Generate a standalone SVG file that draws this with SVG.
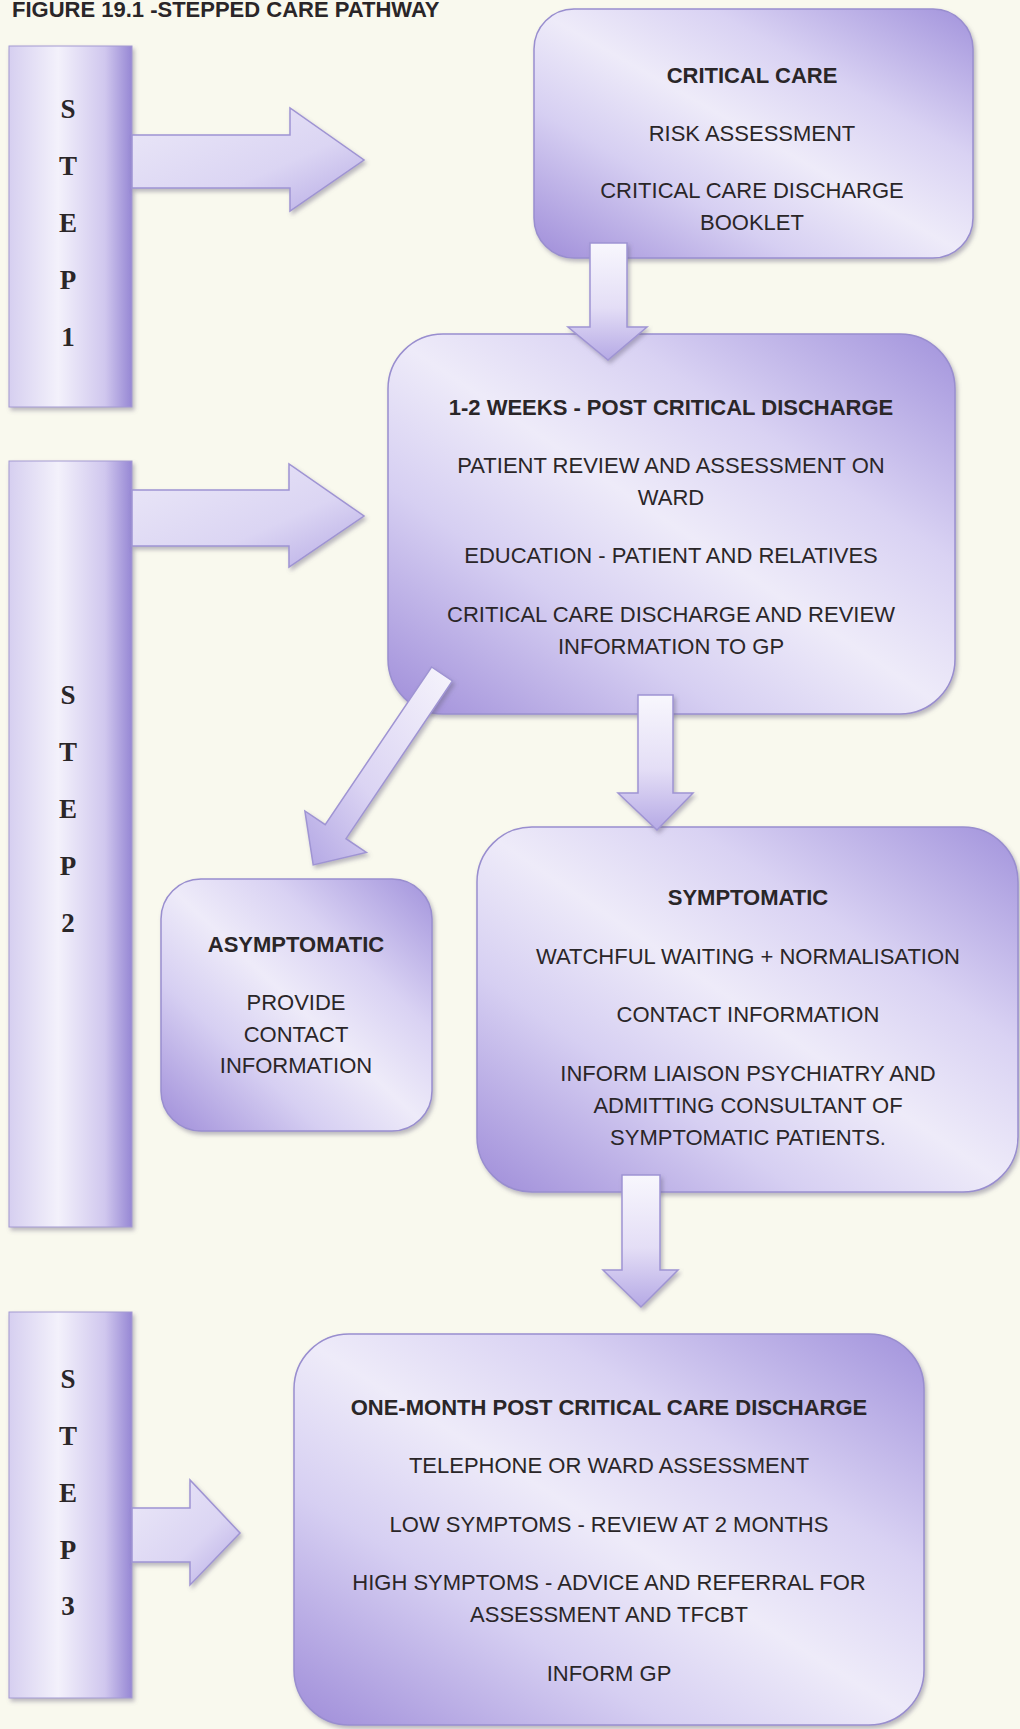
<svg xmlns="http://www.w3.org/2000/svg" width="1020" height="1729" viewBox="0 0 1020 1729">
<defs>
<linearGradient id="boxGrad" x1="0" y1="1" x2="1" y2="0">
<stop offset="0" stop-color="#9f8dd9"/>
<stop offset="0.3" stop-color="#d6cff2"/>
<stop offset="0.5" stop-color="#eeebf9"/>
<stop offset="0.7" stop-color="#d9d2f3"/>
<stop offset="1" stop-color="#a293dc"/>
</linearGradient>
<linearGradient id="barGrad" x1="0" y1="0" x2="1" y2="0">
<stop offset="0" stop-color="#d6cff0"/>
<stop offset="0.4" stop-color="#f3f1fb"/>
<stop offset="0.78" stop-color="#d0c7ee"/>
<stop offset="1" stop-color="#9687d4"/>
</linearGradient>
<linearGradient id="arrowH" x1="0" y1="0" x2="1" y2="1">
<stop offset="0" stop-color="#ebe8f8"/>
<stop offset="0.6" stop-color="#dbd5f3"/>
<stop offset="1" stop-color="#b6aae5"/>
</linearGradient>
<linearGradient id="arrowV" x1="0" y1="0" x2="0" y2="1">
<stop offset="0" stop-color="#f8f7fd"/>
<stop offset="0.55" stop-color="#e4def6"/>
<stop offset="1" stop-color="#b5a9e5"/>
</linearGradient>
<linearGradient id="arrowD" x1="1" y1="0" x2="0" y2="1">
<stop offset="0" stop-color="#f6f4fc"/>
<stop offset="0.6" stop-color="#dbd4f3"/>
<stop offset="1" stop-color="#b3a7e4"/>
</linearGradient>
<filter id="shadow" x="-5%" y="-5%" width="112%" height="112%">
<feDropShadow dx="2" dy="3" stdDeviation="2" flood-color="#6b6680" flood-opacity="0.45"/>
</filter>
</defs>
<style>
.bg{fill:#f9f9ee}
.box{fill:url(#boxGrad);stroke:#998ecf;stroke-width:1.5;filter:url(#shadow)}
.bar{fill:url(#barGrad);stroke:#a49ad2;stroke-width:1;filter:url(#shadow)}
.arrH{fill:url(#arrowH);stroke:#9f94d3;stroke-width:1.5;filter:url(#shadow)}
.arrV{fill:url(#arrowV);stroke:#9f94d3;stroke-width:1.5;filter:url(#shadow)}
.arrD{fill:url(#arrowD);stroke:#9f94d3;stroke-width:1.5;filter:url(#shadow)}
text{font-family:"Liberation Sans",Arial,sans-serif;font-size:22px;fill:#2a2628;text-anchor:middle}
.b{font-weight:bold}
.title{font-size:22px;font-weight:bold;text-anchor:start;fill:#2a2628}
.step{font-family:"Liberation Serif","Times New Roman",serif;font-weight:bold;font-size:27px;fill:#2a2628}
</style>
<rect class="bg" x="0" y="0" width="1020" height="1729"/>
<text class="title" x="12" y="17">FIGURE 19.1 -STEPPED CARE PATHWAY</text>

<g id="step1">
<rect class="bar" x="9" y="46" width="123" height="361"/>
<text class="step" x="68" y="118">S</text>
<text class="step" x="68" y="175">T</text>
<text class="step" x="68" y="232">E</text>
<text class="step" x="68" y="289">P</text>
<text class="step" x="68" y="346">1</text>
</g>
<g id="step2">
<rect class="bar" x="9" y="461" width="123" height="766"/>
<text class="step" x="68" y="704">S</text>
<text class="step" x="68" y="761">T</text>
<text class="step" x="68" y="818">E</text>
<text class="step" x="68" y="875">P</text>
<text class="step" x="68" y="932">2</text>
</g>
<g id="step3">
<rect class="bar" x="9" y="1312" width="123" height="386"/>
<text class="step" x="68" y="1388">S</text>
<text class="step" x="68" y="1445">T</text>
<text class="step" x="68" y="1502">E</text>
<text class="step" x="68" y="1559">P</text>
<text class="step" x="68" y="1615">3</text>
</g>

<g id="critical-care">
<rect class="box" x="534" y="9" width="439" height="249" rx="40" ry="40"/>
<text class="b" x="752" y="83">CRITICAL CARE</text>
<text x="752" y="141">RISK ASSESSMENT</text>
<text x="752" y="198">CRITICAL CARE DISCHARGE</text>
<text x="752" y="230">BOOKLET</text>
</g>

<g id="weeks">
<rect class="box" x="388" y="334" width="567" height="380" rx="55" ry="55"/>
<text class="b" x="671" y="415">1-2 WEEKS - POST CRITICAL DISCHARGE</text>
<text x="671" y="473">PATIENT REVIEW AND ASSESSMENT ON</text>
<text x="671" y="505">WARD</text>
<text x="671" y="563">EDUCATION - PATIENT AND RELATIVES</text>
<text x="671" y="622">CRITICAL CARE DISCHARGE AND REVIEW</text>
<text x="671" y="654">INFORMATION TO GP</text>
</g>

<g id="asymptomatic">
<rect class="box" x="161" y="879" width="271" height="252" rx="40" ry="40"/>
<text class="b" x="296" y="952">ASYMPTOMATIC</text>
<text x="296" y="1010">PROVIDE</text>
<text x="296" y="1042">CONTACT</text>
<text x="296" y="1073">INFORMATION</text>
</g>

<g id="symptomatic">
<rect class="box" x="477" y="827" width="541" height="365" rx="55" ry="55"/>
<text class="b" x="748" y="905">SYMPTOMATIC</text>
<text x="748" y="964">WATCHFUL WAITING + NORMALISATION</text>
<text x="748" y="1022">CONTACT INFORMATION</text>
<text x="748" y="1081">INFORM LIAISON PSYCHIATRY AND</text>
<text x="748" y="1113">ADMITTING CONSULTANT OF</text>
<text x="748" y="1145">SYMPTOMATIC PATIENTS.</text>
</g>

<g id="one-month">
<rect class="box" x="294" y="1334" width="630" height="391" rx="55" ry="55"/>
<text class="b" x="609" y="1415">ONE-MONTH POST CRITICAL CARE DISCHARGE</text>
<text x="609" y="1473">TELEPHONE OR WARD ASSESSMENT</text>
<text x="609" y="1532">LOW SYMPTOMS - REVIEW AT 2 MONTHS</text>
<text x="609" y="1590">HIGH SYMPTOMS - ADVICE AND REFERRAL FOR</text>
<text x="609" y="1622">ASSESSMENT AND TFCBT</text>
<text x="609" y="1681">INFORM GP</text>
</g>

<g id="connectors">
<polygon class="arrH" points="132,135 290,135 290,108 364,160 290,211 290,188 132,188"/>
<polygon class="arrH" points="132,490 289,490 289,464 364,516 289,567 289,546 132,546"/>
<polygon class="arrH" points="132,1508 190,1508 190,1480 240,1533 190,1585 190,1562 132,1562"/>
<polygon class="arrV" points="590,243 627,243 627,327 647,327 608,360 568,327 590,327"/>
<polygon class="arrV" points="638,695 673,695 673,793 693,793 657,830 618,793 638,793"/>
<polygon class="arrV" points="622,1175 660,1175 660,1270 678,1270 641,1307 603,1270 622,1270"/>
<polygon class="arrD" points="431.6,667 452.4,681 346,838.7 366.3,852.4 313.2,864.9 304.9,811 325.2,824.7"/>
</g>
</svg>
